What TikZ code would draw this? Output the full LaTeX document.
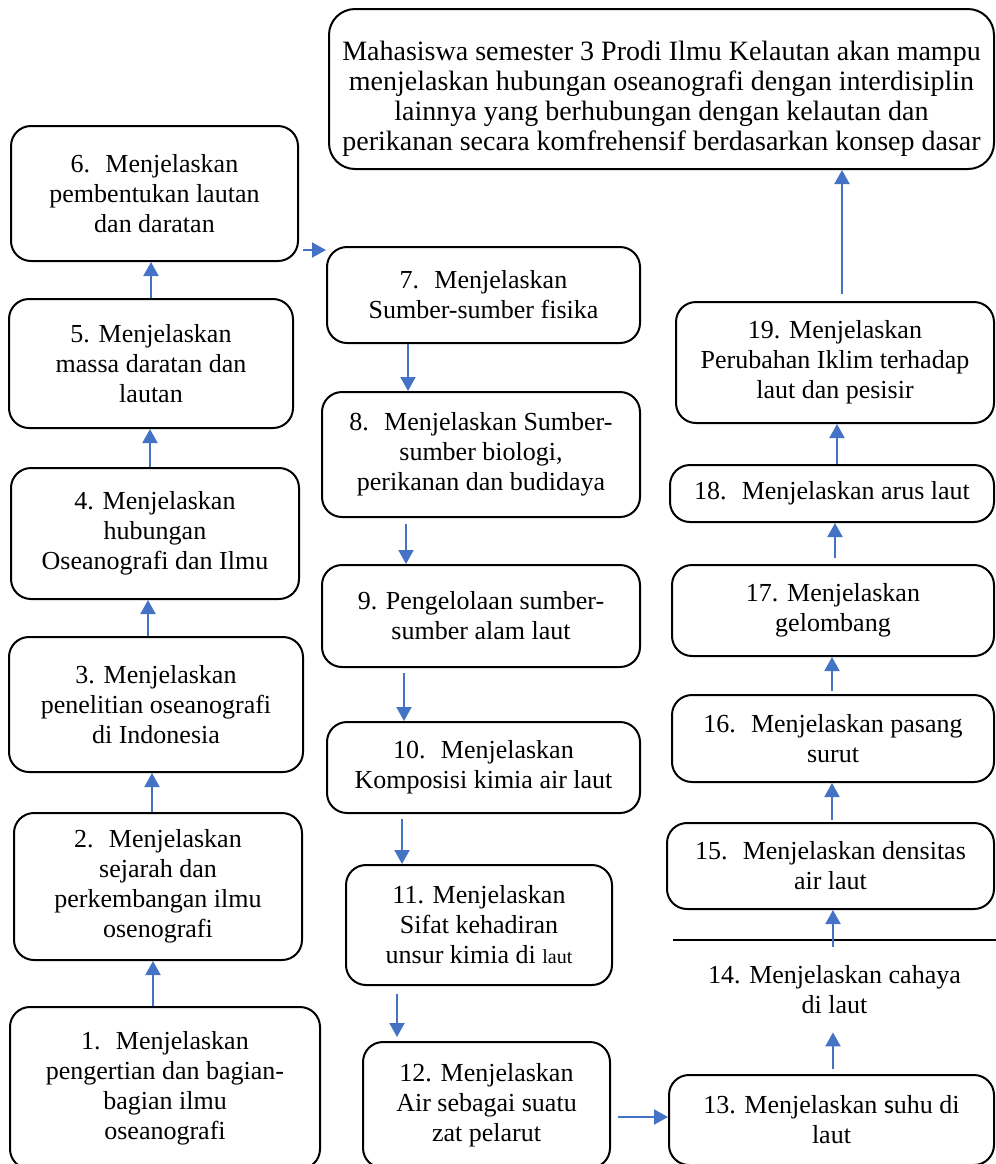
\documentclass[tikz,border=0pt]{standalone}
\usepackage{fontspec}
\setmainfont{Liberation Serif}
\newfontfamily\sansS{Carlito}
\usetikzlibrary{arrows.meta}
\definecolor{arrblue}{HTML}{4472C4}

\begin{document}
\begin{tikzpicture}[x=0.5pt, y=-0.5pt,
  kotak/.style={draw=black, line width=1pt, fill=white, rounded corners=10pt,
    align=center, inner sep=0pt, font=\fontsize{13}{15}\selectfont},
  tujuan/.style={kotak, rounded corners=13pt, font=\fontsize{14}{15}\selectfont},
  ket/.style={align=center, inner sep=0pt, font=\fontsize{13}{15}\selectfont},
  arr/.style={-{Triangle[length=7pt, width=7.5pt]}, line width=1pt, draw=arrblue}
]
  \path[use as bounding box, clip] (0,0) rectangle (996,1164);

  % left column
  \node[kotak, minimum width=155pt, minimum height=81pt] (n1) at (165,1088)
    {1.~ Menjelaskan\\pengertian dan bagian-\\bagian ilmu\\oseanografi};
  \node[kotak, minimum width=144pt, minimum height=73.5pt] (n2) at (158,886.5)
    {2.~ Menjelaskan\\sejarah dan\\perkembangan ilmu\\osenografi};
  \node[kotak, minimum width=147pt, minimum height=67.5pt] (n3) at (156,704.5)
    {3. Menjelaskan\\penelitian oseanografi\\di Indonesia};
  \node[kotak, minimum width=144pt, minimum height=65.5pt] (n4) at (155,533.5)
    {4. Menjelaskan\\hubungan\\Oseanografi dan Ilmu};
  \node[kotak, minimum width=142pt, minimum height=64.5pt] (n5) at (151,363.5)
    {5. Menjelaskan\\massa daratan dan\\lautan};
  \node[kotak, minimum width=143.5pt, minimum height=67.5pt] (n6) at (154.5,193.5)
    {6.~ Menjelaskan\\pembentukan lautan\\dan daratan};

  % middle column
  \node[kotak, minimum width=156.5pt, minimum height=48pt] (n7) at (483.5,295)
    {7.~ Menjelaskan\\Sumber-sumber fisika};
  \node[kotak, minimum width=159pt, minimum height=62.5pt] (n8) at (481,454.5)
    {8.~ Menjelaskan Sumber-\\sumber biologi,\\perikanan dan budidaya};
  \node[kotak, minimum width=159pt, minimum height=51pt] (n9) at (481,616)
    {9. Pengelolaan sumber-\\sumber alam laut};
  \node[kotak, minimum width=156.5pt, minimum height=45.5pt] (n10) at (483.5,767.5)
    {10.~ Menjelaskan\\Komposisi kimia air laut};
  \node[kotak, minimum width=133pt, minimum height=60pt] (n11) at (479,925)
    {11. Menjelaskan\\Sifat kehadiran\\unsur kimia di {\fontsize{10}{15}\selectfont laut}};
  \node[kotak, minimum width=123.5pt, minimum height=63pt] (n12) at (486.5,1105)
    {12. Menjelaskan\\Air sebagai suatu\\zat pelarut};

  % right column
  \node[kotak, minimum width=162.5pt, minimum height=45pt] (n13) at (831.5,1120)
    {13. Menjelaskan {\sansS s}uhu di\\laut};
  \node[ket, minimum width=161.5pt, minimum height=42.5pt] (n14) at (834.5,989.5)
    {14. Menjelaskan cahaya\\di laut};
  \node[kotak, minimum width=163.5pt, minimum height=43pt] (n15) at (830.5,866)
    {15.~ Menjelaskan densitas\\air laut};
  \node[kotak, minimum width=161pt, minimum height=43.5pt] (n16) at (833,738.5)
    {16.~ Menjelaskan pasang\\surut};
  \node[kotak, minimum width=161pt, minimum height=45.5pt] (n17) at (833,610.5)
    {17. Menjelaskan\\gelombang};
  \node[kotak, minimum width=162pt, minimum height=28.5pt] (n18) at (832,493.5)
    {18.~ Menjelaskan arus laut};
  \node[kotak, minimum width=159pt, minimum height=60.5pt] (n19) at (835,362.5)
    {19. Menjelaskan\\Perubahan Iklim terhadap\\laut dan pesisir};
  \node[tujuan, minimum width=332.5pt, minimum height=80pt] (goal) at (661.5,89)
    {\rule{0pt}{19pt}Mahasiswa semester 3 Prodi Ilmu Kelautan akan mampu\\menjelaskan hubungan oseanografi dengan interdisiplin\\lainnya yang berhubungan dengan kelautan dan\\perikanan secara komfrehensif berdasarkan konsep dasar};

  \draw[line width=1pt] ([yshift=3.5pt]n14.north west) -- ([yshift=3.5pt]n14.north east);

  % arrows
  \draw[arr] (n1.north -| 153,0) -- (n2.south -| 153,0);
  \draw[arr] (n2.north -| 152,0) -- (n3.south -| 152,0);
  \draw[arr] (n3.north -| 148,0) -- (n4.south -| 148,0);
  \draw[arr] (n4.north -| 150,0) -- (n5.south -| 150,0);
  \draw[arr] (n5.north -| 151,0) -- (n6.south -| 151,0);
  \draw[arr, shorten <=2pt] (n6.east |- 0,250) -- (n7.west |- 0,250);
  \draw[arr] (n7.south -| 408,0) -- (n8.north -| 408,0);
  \draw[arr, shorten <=3pt] (n8.south -| 406,0) -- (n9.north -| 406,0);
  \draw[arr, shorten <=2.5pt] (n9.south -| 404,0) -- (n10.north -| 404,0);
  \draw[arr, shorten <=2.5pt] (n10.south -| 402,0) -- (n11.north -| 402,0);
  \draw[arr, shorten <=4pt, shorten >=2pt] (n11.south -| 397,0) -- (n12.north -| 397,0);
  \draw[arr, shorten <=3.5pt] (n12.east |- 0,1117) -- (n13.west |- 0,1117);
  \draw[arr, shorten <=2.5pt] (n13.north -| 833,0) -- (n14.south -| 833,0);
  \draw[arr] (n14.north -| 833,0) -- (n15.south -| 833,0);
  \draw[arr, shorten <=1pt] (n15.north -| 832,0) -- (n16.south -| 832,0);
  \draw[arr, shorten <=1.5pt] (n16.north -| 832,0) -- (n17.south -| 832,0);
  \draw[arr, shorten <=3pt] (n17.north -| 835,0) -- (n18.south -| 835,0);
  \draw[arr] (n18.north -| 837,0) -- (n19.south -| 837,0);
  \draw[arr, shorten <=3.5pt] (n19.north -| 842,0) -- (goal.south -| 842,0);
\end{tikzpicture}
\end{document}
